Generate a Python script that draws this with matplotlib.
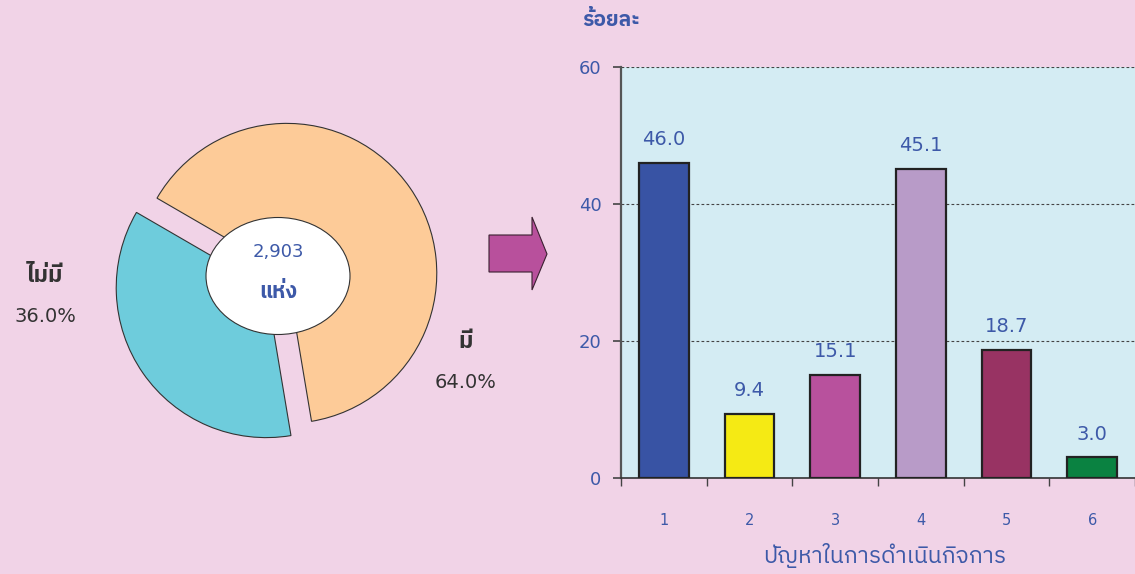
import matplotlib
matplotlib.use("Agg")
import matplotlib.pyplot as plt
from matplotlib import font_manager
from matplotlib.ft2font import FT2Font
from matplotlib.patches import Ellipse, Polygon

# ---------------- data ----------------
pie_labels = ["มี", "ไม่มี"]
pie_values = [64.0, 36.0]
pie_total = "2,903"
pie_unit = "แห่ง"

bar_categories = ["1", "2", "3", "4", "5", "6"]
bar_values = [46.0, 9.4, 15.1, 45.1, 18.7, 3.0]
y_ticks = [0, 20, 40, 60]
y_label = "ร้อยละ"
x_label = "ปัญหาในการดำเนินกิจการ"

# ---------------- fonts ----------------
def find_thai_font():
    cands = []
    for f in font_manager.fontManager.ttflist:
        try:
            cm = FT2Font(f.fname).get_charmap()
        except Exception:
            continue
        if 0x0E23 in cm and 0x0E49 in cm:
            cands.append(f.name)
    if not cands:
        return None
    cands.sort(key=lambda n: (0 if "Sans" in n else 1, n))
    return cands[0]

thai = find_thai_font()
FAM = ["DejaVu Sans"] + ([thai] if thai else [])
plt.rcParams["font.family"] = FAM

BG = "#F1D3E7"
AXBG = "#D4ECF3"
BLUE_TXT = "#3D59A8"
DARK_TXT = "#333333"

W, H = 1135, 574
fig = plt.figure(figsize=(W / 100, H / 100), dpi=100)
fig.patch.set_facecolor(BG)

# ---------------- donut (pixel coordinate axes) ----------------
axp = fig.add_axes([0, 0, 0.5, 1])
axp.set_facecolor("none")
cx, cy = 276.5, H - 280.5
axp.pie(pie_values, radius=150, center=(cx, cy), startangle=-80.5,
        counterclock=True, colors=["#FDCB98", "#6ECCDC"],
        explode=[12.5, 12.5],
        wedgeprops=dict(edgecolor="#333333", linewidth=0.8))
axp.set_xlim(0, W * 0.5)
axp.set_ylim(0, H)
axp.set_aspect("equal")
axp.axis("off")

axp.add_patch(Ellipse((278, H - 276), 144, 117, facecolor="white",
                      edgecolor="#333333", linewidth=0.8, zorder=5))
axp.text(278, H - 252, pie_total, ha="center", va="center", fontsize=13,
         color=BLUE_TXT, zorder=6)
axp.text(278, H - 292, pie_unit, ha="center", va="center", fontsize=15.5,
         color=BLUE_TXT, fontweight="bold", zorder=6)

axp.text(45, H - 276, pie_labels[1], ha="center", va="center", fontsize=16.5,
         color=DARK_TXT, fontweight="bold")
axp.text(45, H - 316, f"{pie_values[1]:.1f}%", ha="center", va="center",
         fontsize=14, color=DARK_TXT)
axp.text(466, H - 341, pie_labels[0], ha="center", va="center", fontsize=16.5,
         color=DARK_TXT, fontweight="bold")
axp.text(466, H - 383, f"{pie_values[0]:.1f}%", ha="center", va="center",
         fontsize=14, color=DARK_TXT)

# arrow
arrow = [(489, H - 235), (532, H - 235), (532, H - 217), (547, H - 254),
         (532, H - 290), (532, H - 272), (489, H - 272)]
axp.add_patch(Polygon(arrow, closed=True, facecolor="#B8509C",
                      edgecolor="#3a2030", linewidth=0.8, zorder=4))

# ---------------- bar chart ----------------
left = 621 / W
bottom = (H - 478) / H
height = (478 - 67) / H
ax = fig.add_axes([left, bottom, 1 - left, height])
ax.set_facecolor(AXBG)

xpos = list(range(1, len(bar_categories) + 1))
colors = ["#3853A4", "#F5EA14", "#B8519D", "#B89BC8", "#983363", "#0A8241"]
bars = ax.bar(xpos, bar_values, width=0.58, color=colors,
              edgecolor="#222222", linewidth=1.6, zorder=3)
for x, v in zip(xpos, bar_values):
    ax.annotate(f"{v:.1f}", (x, v), xytext=(0, 10), textcoords="offset points",
                ha="center", va="bottom", fontsize=14, color=BLUE_TXT)

ax.set_xlim(0.5, len(bar_categories) + 0.5)
ax.set_ylim(0, 60)
ax.set_yticks(y_ticks)
ax.set_yticklabels([str(t) for t in y_ticks], fontsize=13, color=BLUE_TXT)
ax.tick_params(axis="y", direction="out", length=6, width=1.2,
               color="#444444", pad=8)

ax.set_xticks(xpos)
ax.set_xticklabels(bar_categories, fontsize=10.5, color=BLUE_TXT)
ax.set_xticks([i + 0.5 for i in range(0, len(bar_categories) + 1)], minor=True)
ax.tick_params(axis="x", which="major", length=0, pad=25)
ax.tick_params(axis="x", which="minor", direction="out", length=6,
               width=1.0, color="#444444")

for t in y_ticks[1:]:
    ax.axhline(t, color="#444444", linestyle=(0, (2.5, 2)), linewidth=0.8,
               zorder=1)

ax.spines["top"].set_visible(False)
ax.spines["right"].set_visible(False)
ax.spines["left"].set_color("#555555")
ax.spines["left"].set_linewidth(1.6)
ax.spines["bottom"].set_color("#333333")
ax.spines["bottom"].set_linewidth(1.2)

fig.text(611 / W, 1 - 20 / H, y_label, ha="center", va="center",
         fontsize=15, color=BLUE_TXT, fontweight="bold")
fig.text(885 / W, 1 - 555 / H, x_label, ha="center", va="center",
         fontsize=16.5, color=BLUE_TXT)

fig.savefig("out.png", dpi=100, facecolor=BG)
